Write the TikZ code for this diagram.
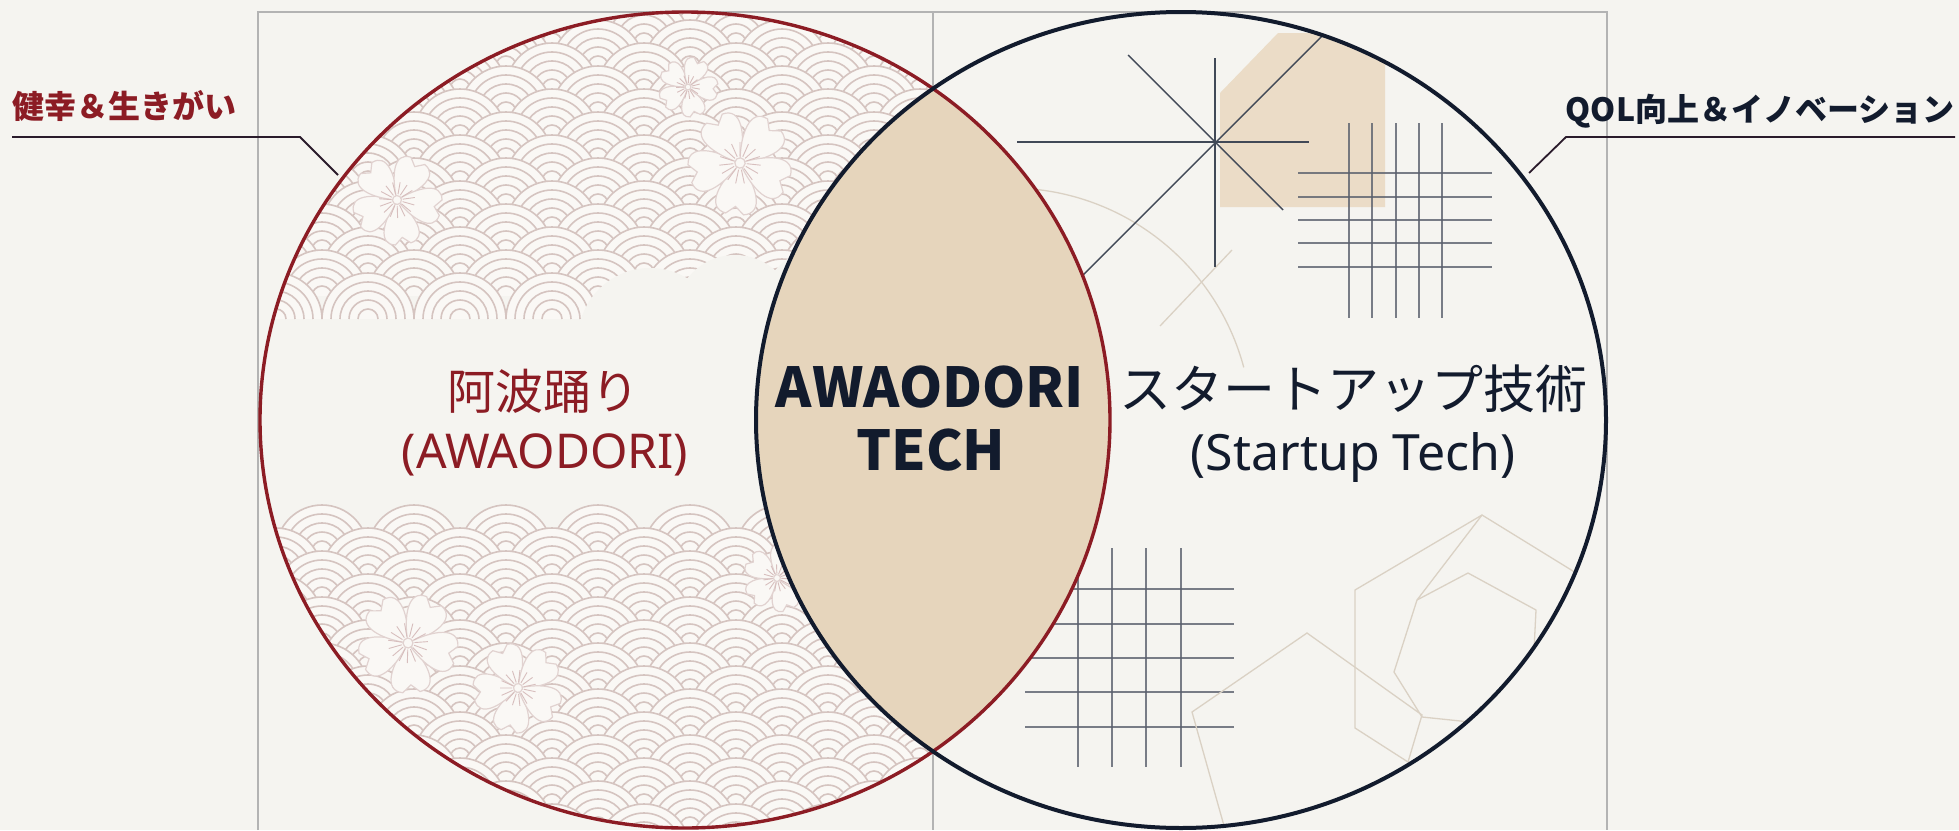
\documentclass[tikz,border=0pt]{standalone}
\usepackage{fontspec}
\usepackage{tikz}
\newfontfamily\jpfont{Noto Sans CJK JP}
\newfontfamily\enfont{Noto Sans}
\definecolor{paper}{HTML}{F5F4F0}
\definecolor{awared}{HTML}{8C1C24}
\definecolor{technavy}{HTML}{121B2D}
\definecolor{lensbeige}{HTML}{E6D5BC}
\definecolor{blockbeige}{HTML}{EBDCC7}
\definecolor{seaink}{HTML}{D5C4C0}
\definecolor{seafill}{HTML}{FAF8F5}
\definecolor{framegray}{HTML}{B3B3B3}
\definecolor{faint}{HTML}{DAD1C4}
\tikzset{
	framerule/.style={draw=framegray, line width=0.75pt},
	seaarc/.style={draw=seaink, line width=0.8pt},
	petal/.style={draw=seaink!90!awared!60, fill=seafill, line width=0.6pt},
	stamen/.style={draw=seaink!80!awared!70, line width=0.45pt},
	starline/.style={draw=technavy!80, line width=0.7pt},
	gridline/.style={draw=technavy!70, line width=0.7pt, opacity=0.8},
	faintline/.style={draw=faint, line width=0.65pt},
	awaring/.style={draw=awared, line width=1.7pt},
	techring/.style={draw=technavy, line width=2pt},
	tagline/.style={draw=technavy!80!awared, line width=0.9pt},
	kenkolabel/.style={text=awared, inner sep=0pt, font=\jpfont\bfseries\fontsize{16}{19}\selectfont},
	qollabel/.style={text=technavy, inner sep=0pt, font=\jpfont\bfseries\fontsize{16}{19}\selectfont},
	awajp/.style={text=awared, inner sep=0pt, font=\jpfont\fontsize{24}{28}\selectfont},
	awaen/.style={text=awared, inner sep=0pt, font=\enfont\fontsize{24}{28}\selectfont},
	techtext/.style={text=technavy, inner sep=0pt, font=\jpfont\bfseries\fontsize{27.5}{33}\selectfont},
	startjp/.style={text=technavy, inner sep=0pt, font=\jpfont\fontsize{26}{31}\selectfont},
	starten/.style={text=technavy, inner sep=0pt, font=\enfont\fontsize{25}{30}\selectfont},
	sakura/.pic={
			\foreach \pa in {90,162,234,306,378}
			\filldraw[petal] (0,0) .. controls (\pa-42:0.55) and (\pa-32:1.08) .. (\pa-10:1) -- (\pa:0.84) -- (\pa+10:1) .. controls (\pa+32:1.08) and (\pa+42:0.55) .. cycle;
			\foreach \sa in {0,24,...,336}
			\draw[stamen] (\sa:0.13) -- (\sa:0.4);
			\filldraw[petal] (0,0) circle (0.1);
		}
}
% one fish scale of the wave pattern
\newcommand\seascale[2]{%
	\fill[seafill] (#1,#2) ++(-23pt,0) arc (180:0:23pt) -- cycle;
	\foreach \rr in {23,18.5,14,9.5,5}
	\draw[seaarc] (#1,#2) ++(-\rr pt,0) arc (180:0:\rr pt);
}

\begin{document}
\begin{tikzpicture}[x=0.5pt,y=-0.5pt]

	\fill[paper] (0,0) rectangle (1959,830);
	\useasboundingbox (0,0) rectangle (1959,830);

	% Draw the frame
	\draw[framerule] (258,830) -- (258,12) -- (1607,12) -- (1607,830);
	\draw[framerule] (933,12) -- (933,830);

	% Waves and blossoms in the left circle
	\begin{scope}
		\clip (685,420) ellipse [x radius=212.5pt, y radius=204pt];
		\foreach \r in {0,...,13} {
				\pgfmathsetmacro\wy{20+23*\r}
				\pgfmathsetmacro\wo{46*mod(\r,2)}
				\foreach \c in {0,...,10} {
						\pgfmathsetmacro\wx{230+92*\c+\wo}
						\seascale{\wx}{\wy}
					}
			}
		\foreach \r in {0,...,13} {
				\pgfmathsetmacro\wy{551+23*\r}
				\pgfmathsetmacro\wo{46*mod(\r,2)}
				\foreach \c in {0,...,10} {
						\pgfmathsetmacro\wx{230+92*\c+\wo}
						\seascale{\wx}{\wy}
					}
			}
		% cloud gap in the upper waves
		\foreach \cx/\cy/\cr in {650/340/36, 735/315/30, 822/308/30, 910/320/36}
		\fill[paper] (\cx,\cy) circle [radius=\cr pt];
		\pic[scale=45, rotate=8] at (397,200) {sakura};
		\pic[scale=52, rotate=-6] at (740,163) {sakura};
		\pic[scale=30, rotate=14] at (688,87) {sakura};
		\pic[scale=50, rotate=4] at (408,643) {sakura};
		\pic[scale=45, rotate=-12] at (518,688) {sakura};
		\pic[scale=34, rotate=20] at (777,578) {sakura};
	\end{scope}

	% Tech sketch in the right circle
	\begin{scope}
		\clip (1181,420) ellipse [x radius=212.5pt, y radius=204pt];
		\fill[blockbeige] (1220,207) -- (1220,93) -- (1278,33) -- (1385,33) -- (1385,207) -- cycle;
		\draw[faintline] (1010,430) ++(125:121pt) arc (125:15:121pt);
		\draw[faintline] (1232,250) -- (1160,326);
		\draw[starline] (1017,142) -- (1309,142);
		\draw[starline] (1215,58) -- (1215,267);
		\draw[starline] (1128,55) -- (1283,210);
		\draw[starline] (1330,28) -- (1083,275);
		\foreach \gx in {1349,1372,1396,1419,1442}
		\draw[gridline] (\gx,123) -- (\gx,318);
		\foreach \gy in {173,197,220,243,267}
		\draw[gridline] (1298,\gy) -- (1492,\gy);
		\foreach \gx in {1078,1112,1146,1181}
		\draw[gridline] (\gx,548) -- (\gx,767);
		\foreach \gy in {589,624,658,692,727}
		\draw[gridline] (1025,\gy) -- (1234,\gy);
		\draw[faintline] (1228,840) -- (1192,712) -- (1307,633) -- (1422,715) -- (1408,762);
		\draw[faintline] (1408,762) -- (1355,728) -- (1355,590) -- (1482,515) -- (1620,600);
		\draw[faintline] (1482,515) -- (1417,600) -- (1394,672) -- (1422,717) -- (1470,722);
		\draw[faintline] (1417,600) -- (1468,573) -- (1536,610) -- (1534,650);
	\end{scope}

	% Fill the overlap
	\begin{scope}
		\clip (685,420) ellipse [x radius=212.5pt, y radius=204pt];
		\fill[lensbeige] (1181,420) ellipse [x radius=212.5pt, y radius=204pt];
	\end{scope}

	% Draw the circles
	\draw[awaring] (685,420) ellipse [x radius=212.5pt, y radius=204pt];
	\draw[techring] (1181,420) ellipse [x radius=212.5pt, y radius=204pt];

	% Circle titles
	\node[awajp, anchor=base] (awa) at (543,409) {阿波踊り};
	\node[awaen, anchor=base] (awaroman) at (545,468) {(AWAODORI)};
	\node[techtext, anchor=base] (tech) at (930,407) {AWAODORI};
	\node[techtext, anchor=base] (techb) at (931,470) {TECH};
	\node[startjp, anchor=base] (startup) at (1353,408) {スタートアップ技術};
	\node[starten, anchor=base] (startupen) at (1353,470) {(Startup Tech)};

	% Side labels with their leaders
	\node[kenkolabel, anchor=base west] (kenko) at (12,118) {健幸＆生きがい};
	\node[qollabel, anchor=base east] (qol) at (1955,121) {QOL向上＆イノベーション};
	\coordinate (kenkoknee) at (300,137);
	\coordinate (kenkotip) at (338,175);
	\coordinate (qolknee) at (1566,137);
	\coordinate (qoltip) at (1529,173);
	\draw[tagline] (kenko.west |- kenkoknee) -- (kenkoknee) -- (kenkotip);
	\draw[tagline] (qol.east |- qolknee) -- (qolknee) -- (qoltip);
\end{tikzpicture}
\end{document}
